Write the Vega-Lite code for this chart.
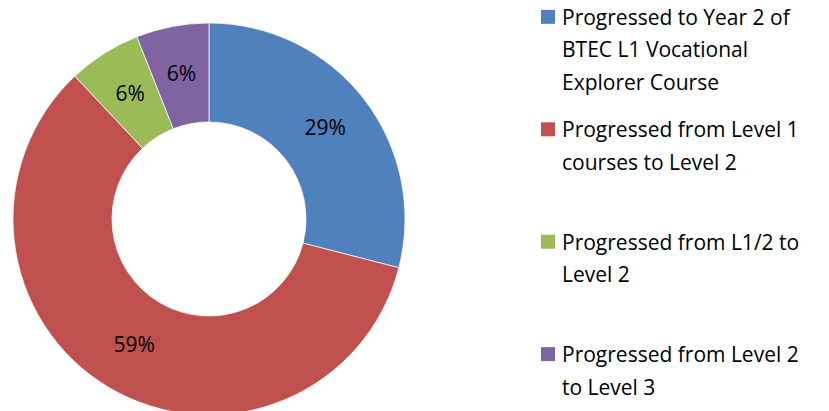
{
  "$schema": "https://vega.github.io/schema/vega-lite/v6.json",
  "background": "white",
  "padding": 0,
  "spacing": 100,
  "config": {"view": {"stroke": null}, "font": "Open Sans"},
  "datasets": {
    "slices": [
      {"idx": 1, "category": "Progressed to Year 2 of BTEC L1 Vocational Explorer Course", "label": "Progressed to Year 2 of\nBTEC L1 Vocational\nExplorer Course", "share": 29, "pct": "29%"},
      {"idx": 2, "category": "Progressed from Level 1 courses to Level 2", "label": "Progressed from Level 1\ncourses to Level 2", "share": 59, "pct": "59%"},
      {"idx": 3, "category": "Progressed from L1/2 to Level 2", "label": "Progressed from L1/2 to\nLevel 2", "share": 6, "pct": "6%"},
      {"idx": 4, "category": "Progressed from Level 2 to Level 3", "label": "Progressed from Level 2\nto Level 3", "share": 6, "pct": "6%"}
    ]
  },
  "hconcat": [
    {
      "width": 418,
      "height": 438,
      "data": {"name": "slices"},
      "encoding": {
        "theta": {"field": "share", "type": "quantitative", "stack": true},
        "order": {"field": "idx", "type": "quantitative"}
      },
      "layer": [
        {
          "mark": {"type": "arc", "outerRadius": 196, "innerRadius": 97, "stroke": "white", "strokeWidth": 0.75},
          "encoding": {
            "color": {
              "field": "category", "type": "nominal", "legend": null,
              "scale": {
                "domain": ["Progressed to Year 2 of BTEC L1 Vocational Explorer Course", "Progressed from Level 1 courses to Level 2", "Progressed from L1/2 to Level 2", "Progressed from Level 2 to Level 3"],
                "range": ["#4F81BD", "#C0504D", "#9BBB59", "#8064A2"]
              }
            }
          }
        },
        {
          "mark": {"type": "text", "radius": 147, "fontSize": 21, "color": "black", "align": "center", "baseline": "middle"},
          "encoding": {
            "detail": {"field": "category", "type": "nominal"},
            "text": {"field": "pct", "type": "nominal"}
          }
        }
      ]
    },
    {
      "width": 60,
      "height": 371,
      "data": {"name": "slices"},
      "encoding": {
        "y": {"field": "idx", "type": "ordinal", "scale": {"type": "point", "padding": 0.15}, "axis": null}
      },
      "layer": [
        {
          "mark": {"type": "square", "size": 196, "opacity": 1},
          "encoding": {
            "color": {
              "field": "category", "type": "nominal", "legend": null,
              "scale": {
                "domain": ["Progressed to Year 2 of BTEC L1 Vocational Explorer Course", "Progressed from Level 1 courses to Level 2", "Progressed from L1/2 to Level 2", "Progressed from Level 2 to Level 3"],
                "range": ["#4F81BD", "#C0504D", "#9BBB59", "#8064A2"]
              }
            }
          }
        },
        {
          "mark": {"type": "text", "align": "left", "baseline": "alphabetic", "dx": 14, "dy": 8, "fontSize": 21, "lineHeight": 32.5, "lineBreak": "\n", "color": "black"},
          "encoding": {
            "text": {"field": "label", "type": "nominal"}
          }
        }
      ]
    }
  ]
}
